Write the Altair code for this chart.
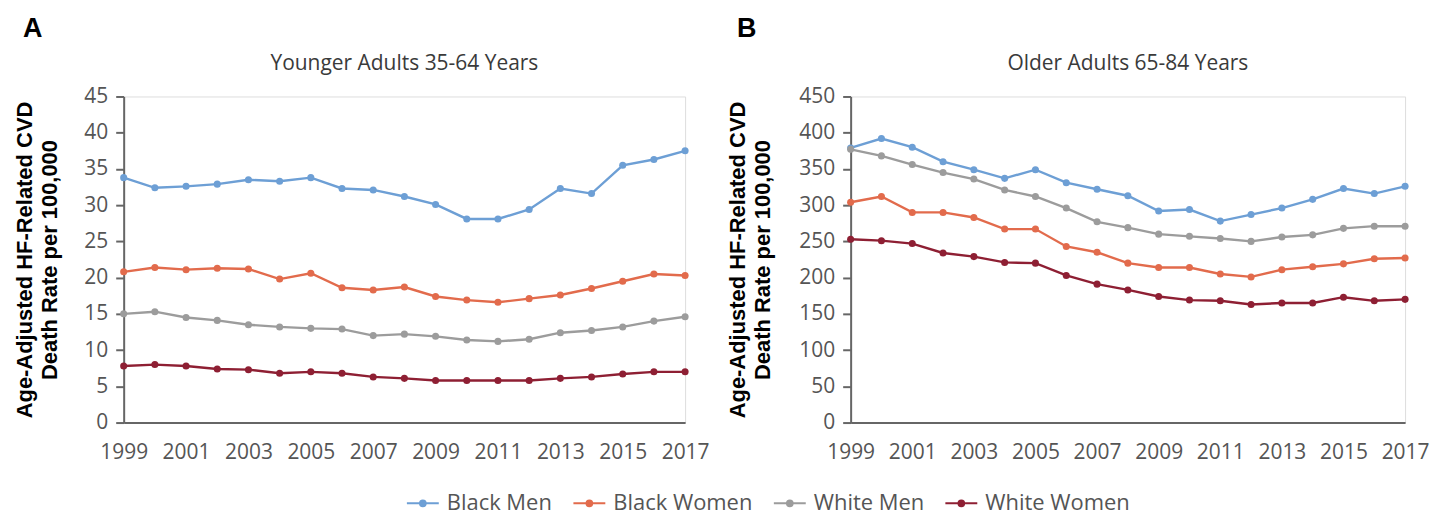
import altair as alt
import pandas as pd

years = list(range(1999, 2018))
series = ["Black Men", "Black Women", "White Men", "White Women"]
colors = ["#6d9fd5", "#e26b4c", "#9c9c9c", "#8e1f33"]

# Panel A: Younger Adults 35-64 Years
young_black_men = [33.8, 32.4, 32.6, 32.9, 33.5, 33.3, 33.8, 32.3, 32.1, 31.2, 30.1, 28.1, 28.1, 29.4, 32.3, 31.6, 35.5, 36.3, 37.5]
young_black_women = [20.8, 21.4, 21.1, 21.3, 21.2, 19.8, 20.6, 18.6, 18.3, 18.7, 17.4, 16.9, 16.6, 17.1, 17.6, 18.5, 19.5, 20.5, 20.3]
young_white_men = [15.0, 15.3, 14.5, 14.1, 13.5, 13.2, 13.0, 12.9, 12.0, 12.2, 11.9, 11.4, 11.2, 11.5, 12.4, 12.7, 13.2, 14.0, 14.6]
young_white_women = [7.8, 8.0, 7.8, 7.4, 7.3, 6.8, 7.0, 6.8, 6.3, 6.1, 5.8, 5.8, 5.8, 5.8, 6.1, 6.3, 6.7, 7.0, 7.0]

# Panel B: Older Adults 65-84 Years
old_black_men = [379, 392, 380, 360, 349, 337, 349, 331, 322, 313, 292, 294, 278, 287, 296, 308, 323, 316, 326]
old_black_women = [304, 312, 290, 290, 283, 267, 267, 243, 235, 220, 214, 214, 205, 201, 211, 215, 219, 226, 227]
old_white_men = [377, 368, 356, 345, 336, 321, 312, 296, 277, 269, 260, 257, 254, 250, 256, 259, 268, 271, 271]
old_white_women = [253, 251, 247, 234, 229, 221, 220, 203, 191, 183, 174, 169, 168, 163, 165, 165, 173, 168, 170]

x_ticks = list(range(1999, 2018, 2))
y_title = ["Age-Adjusted HF-Related CVD", "Death Rate per 100,000"]


def long_df(vals):
    rows = []
    for s, v in zip(series, vals):
        for yr, r in zip(years, v):
            rows.append({"year": yr, "rate": r, "series": s})
    return pd.DataFrame(rows)


df_young = long_df([young_black_men, young_black_women, young_white_men, young_white_women])
df_old = long_df([old_black_men, old_black_women, old_white_men, old_white_women])

H = 327
legend_path = "M-1,0L1,0M-0.18,0A0.18,0.18 0 1,0 0.18,0A0.18,0.18 0 1,0 -0.18,0Z"

legend = alt.Legend(
    title=None, orient="none", direction="horizontal", columns=4,
    legendX=283, legendY=391,
    symbolType=legend_path, symbolSize=1024, symbolStrokeWidth=2,
    labelFont="Open Sans", labelFontSize=22, labelColor="#555555",
    labelOffset=7, columnPadding=17,
)


def panel(df, letter, letter_dx, subtitle, ymax, ystep, title_pad, W):
    base = alt.Chart(df).encode(
        x=alt.X(
            "year:Q",
            scale=alt.Scale(domain=[1999, 2017], nice=False, zero=False),
            axis=alt.Axis(values=x_ticks, format="d", title=None, ticks=False, grid=False,
                          labelOverlap=False, labelFlush=False,
                          labelPadding=19, labelFontSize=21, labelColor="#555555",
                          labelFont="Open Sans", domainColor="#666666", domainWidth=2),
        ),
        y=alt.Y(
            "rate:Q",
            scale=alt.Scale(domain=[0, ymax], nice=False),
            axis=alt.Axis(values=list(range(0, ymax + 1, ystep)), title=y_title, grid=False,
                          tickSize=8, tickWidth=2, tickColor="#666666",
                          domainColor="#666666", domainWidth=2,
                          labelPadding=8, labelFontSize=21, labelColor="#555555",
                          labelFont="Open Sans",
                          titleFont="Liberation Sans", titleFontSize=22, titleFontWeight="bold",
                          titleColor="#000000", titleLineHeight=25, titlePadding=title_pad),
        ),
        color=alt.Color("series:N", scale=alt.Scale(domain=series, range=colors), legend=legend),
    )
    lines = base.mark_line(strokeWidth=2.4)
    points = base.mark_point(filled=True, size=50, opacity=1)
    letter_txt = alt.Chart(pd.DataFrame({"t": [letter]})).mark_text(
        font="Liberation Sans", fontSize=27, fontWeight="bold", color="#000000",
        align="left", baseline="alphabetic"
    ).encode(text="t:N", x=alt.value(letter_dx), y=alt.value(-60))
    sub_txt = alt.Chart(pd.DataFrame({"t": [subtitle]})).mark_text(
        font="Open Sans", fontSize=21, color="#3a3a3a", align="center", baseline="alphabetic"
    ).encode(text="t:N", x=alt.value(W / 2), y=alt.value(-27))
    return alt.layer(lines, points, letter_txt, sub_txt).properties(width=W, height=H)


pa = panel(df_young, "A", -101, "Younger Adults 35-64 Years", 45, 5, 22, 563)
pb = panel(df_old, "B", -114, "Older Adults 65-84 Years", 450, 50, 24, 556)

chart = alt.hconcat(pa, pb, spacing=16).resolve_scale(color="shared").configure_view(
    stroke=None
).configure(background="#ffffff")

chart.save("out.html", embed_options={"renderer": "svg", "actions": False})
